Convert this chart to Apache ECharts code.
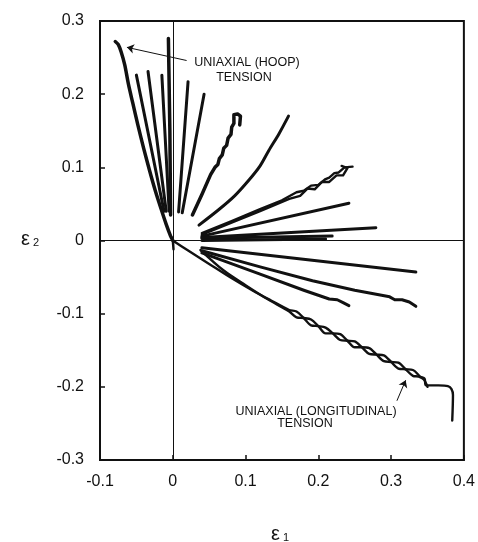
<!DOCTYPE html>
<html>
<head>
<meta charset="utf-8">
<script src="https://cdn.jsdelivr.net/npm/echarts@6/dist/echarts.min.js"></script>
<style>
  html, body { margin: 0; padding: 0; background: #fff; }
  #chart { width: 478px; height: 542px; }
</style>
</head>
<body>
<div id="chart"></div>
<script>
// Strain paths in the (ε1, ε2) plane, each as [ε1, ε2] pairs.
const xRange = [-0.1, 0.4];
const yRange = [-0.3, 0.3];
const tickStep = 0.1;

// Uniaxial hoop tension envelope
const hoopPath = [
  [-0.079, 0.272], [-0.075, 0.268], [-0.071, 0.258], [-0.066, 0.240], [-0.061, 0.214],
  [-0.055, 0.188], [-0.048, 0.158], [-0.040, 0.126], [-0.032, 0.096], [-0.024, 0.068],
  [-0.016, 0.043], [-0.009, 0.022], [-0.003, 0.006], [0.0, 0.0]
];
// Upper fan
const pathA = [[-0.050, 0.226], [-0.012, 0.040]];
const pathB = [[-0.034, 0.231], [-0.009, 0.040]];
const pathC = [[-0.015, 0.226], [-0.005, 0.040]];
const pathD = [[-0.006, 0.276], [-0.004, 0.150], [-0.003, 0.035]];
const pathE = [[0.008, 0.039], [0.021, 0.217]];
const pathF = [[0.013, 0.038], [0.043, 0.200]];
const pathG = [
  [0.027, 0.035], [0.040, 0.063], [0.052, 0.090], [0.058, 0.100], [0.062, 0.104],
  [0.064, 0.112], [0.068, 0.117], [0.070, 0.126], [0.074, 0.130], [0.076, 0.140],
  [0.080, 0.145], [0.081, 0.155], [0.084, 0.160], [0.084, 0.172], [0.089, 0.173],
  [0.093, 0.170], [0.092, 0.158]
];
const pathH = [
  [0.036, 0.021], [0.063, 0.042], [0.085, 0.061], [0.105, 0.083], [0.120, 0.102],
  [0.132, 0.123], [0.146, 0.146], [0.159, 0.170]
];
// Right fan
const pathI1 = [
  [0.040, 0.010], [0.080, 0.026], [0.120, 0.043], [0.150, 0.055], [0.170, 0.066],
  [0.180, 0.068], [0.190, 0.075], [0.200, 0.076], [0.210, 0.084], [0.215, 0.086],
  [0.222, 0.092], [0.228, 0.093], [0.236, 0.100], [0.247, 0.101]
];
const pathI2 = [
  [0.040, 0.008], [0.120, 0.040], [0.160, 0.057], [0.175, 0.061], [0.185, 0.071],
  [0.195, 0.070], [0.205, 0.080], [0.215, 0.080], [0.225, 0.089], [0.234, 0.089],
  [0.240, 0.099], [0.232, 0.102]
];
const pathJ = [[0.040, 0.006], [0.242, 0.051]];
const pathK = [[0.040, 0.004], [0.279, 0.0175]];
const pathL1 = [[0.040, 0.003], [0.219, 0.006]];
const pathL2 = [[0.040, 0.000], [0.210, 0.002]];
// Lower fan
const pathM = [[0.040, -0.010], [0.334, -0.043]];
const pathN = [
  [0.040, -0.014], [0.120, -0.036], [0.192, -0.055], [0.250, -0.068], [0.298, -0.077],
  [0.305, -0.081], [0.315, -0.081], [0.325, -0.084], [0.334, -0.090]
];
const pathO = [
  [0.040, -0.017], [0.120, -0.046], [0.180, -0.068], [0.215, -0.080], [0.226, -0.081],
  [0.234, -0.085], [0.242, -0.089]
];
// Uniaxial longitudinal tension (two intertwined records)
const longPath1 = [
  [0.000, 0.004], [0.001, -0.012], [0.000, 0.000], [0.020, -0.013], [0.050, -0.032],
  [0.080, -0.051], [0.109, -0.068], [0.135, -0.082], [0.160, -0.095], [0.170, -0.097],
  [0.180, -0.106], [0.190, -0.116], [0.200, -0.117], [0.210, -0.119], [0.220, -0.127],
  [0.230, -0.136], [0.240, -0.137], [0.250, -0.138], [0.260, -0.146], [0.270, -0.155],
  [0.280, -0.156], [0.290, -0.157], [0.300, -0.166], [0.310, -0.175], [0.320, -0.176],
  [0.330, -0.177], [0.340, -0.186], [0.346, -0.189], [0.348, -0.198], [0.365, -0.198],
  [0.378, -0.199], [0.383, -0.203], [0.385, -0.211], [0.384, -0.246]
];
const longPath2 = [
  [0.038, -0.013], [0.070, -0.041], [0.100, -0.061], [0.130, -0.080], [0.160, -0.097],
  [0.170, -0.105], [0.180, -0.106], [0.190, -0.108], [0.200, -0.117], [0.210, -0.127],
  [0.220, -0.127], [0.230, -0.128], [0.240, -0.137], [0.250, -0.146], [0.260, -0.146],
  [0.270, -0.147], [0.280, -0.156], [0.290, -0.165], [0.300, -0.166], [0.310, -0.167],
  [0.320, -0.176], [0.330, -0.185], [0.338, -0.186], [0.345, -0.190], [0.350, -0.200]
];

const INK = '#111';
const FONT = '"Liberation Sans", Arial, Helvetica, sans-serif';

const paths = [
  { data: hoopPath, width: 3.5, smooth: 0.3 },
  { data: pathA, width: 3 }, { data: pathB, width: 3 }, { data: pathC, width: 3 },
  { data: pathD, width: 3.5 }, { data: pathE, width: 3 }, { data: pathF, width: 3 },
  { data: pathG, width: 3.5 }, { data: pathH, width: 3, smooth: 0.3 },
  { data: pathI1, width: 2.4 }, { data: pathI2, width: 2.4 },
  { data: pathJ, width: 3 }, { data: pathK, width: 3 },
  { data: pathL1, width: 3 }, { data: pathL2, width: 3 },
  { data: pathM, width: 3 }, { data: pathN, width: 3 }, { data: pathO, width: 3 },
  { data: longPath1, width: 2.4, smooth: 0.3 }, { data: longPath2, width: 2.4, smooth: 0.3 }
];

const series = paths.map((p) => ({
  type: 'line',
  data: p.data,
  showSymbol: false,
  smooth: p.smooth || false,
  lineStyle: { color: INK, width: p.width, cap: 'round', join: 'round' },
  z: 3
}));

// zero reference lines
series[0].markLine = {
  silent: true, symbol: 'none', label: { show: false },
  lineStyle: { color: INK, width: 1, type: 'solid' },
  data: [{ xAxis: 0 }, { yAxis: 0 }]
};
// annotation arrows
series[1].markLine = {
  silent: true, symbol: ['none', 'arrow'], symbolSize: 7, label: { show: false },
  lineStyle: { color: INK, width: 1, type: 'solid' },
  data: [
    [{ coord: [0.019, 0.246] }, { coord: [-0.063, 0.264] }],
    [{ coord: [0.308, -0.219] }, { coord: [0.320, -0.191] }]
  ]
};

const chart = echarts.init(document.getElementById('chart'), null, { renderer: 'canvas' });
chart.setOption({
  animation: false,
  backgroundColor: '#fff',
  grid: {
    left: 100, top: 21, right: 14, bottom: 82,
    show: true, borderColor: INK, borderWidth: 2, backgroundColor: 'transparent'
  },
  xAxis: {
    type: 'value', min: xRange[0], max: xRange[1], interval: tickStep,
    axisLine: { show: true, onZero: false, lineStyle: { color: INK, width: 2 } },
    axisTick: { show: true, inside: true, length: 5, lineStyle: { color: INK, width: 1.5 } },
    axisLabel: { color: INK, fontSize: 16, fontFamily: FONT, margin: 14 },
    splitLine: { show: false }
  },
  yAxis: {
    type: 'value', min: yRange[0], max: yRange[1], interval: tickStep,
    axisLine: { show: true, onZero: false, lineStyle: { color: INK, width: 2 } },
    axisTick: { show: true, inside: true, length: 5, lineStyle: { color: INK, width: 1.5 } },
    axisLabel: { color: INK, fontSize: 16, fontFamily: FONT, margin: 16 },
    splitLine: { show: false }
  },
  series: series,
  graphic: [
    { type: 'text', x: 247, y: 63, style: { text: 'UNIAXIAL (HOOP)', fill: INK, font: '12.5px ' + FONT, align: 'center', verticalAlign: 'middle' } },
    { type: 'text', x: 244, y: 78, style: { text: 'TENSION', fill: INK, font: '12.5px ' + FONT, align: 'center', verticalAlign: 'middle' } },
    { type: 'text', x: 316, y: 412, style: { text: 'UNIAXIAL (LONGITUDINAL)', fill: INK, font: '12.5px ' + FONT, align: 'center', verticalAlign: 'middle' } },
    { type: 'text', x: 305, y: 424, style: { text: 'TENSION', fill: INK, font: '12.5px ' + FONT, align: 'center', verticalAlign: 'middle' } },
    {
      type: 'text', x: 280, y: 534,
      style: {
        text: '{e|ε}{s| 1}', align: 'center', verticalAlign: 'middle',
        rich: {
          e: { fontSize: 20, fontFamily: FONT, fill: INK },
          s: { fontSize: 11, fontFamily: FONT, fill: INK, padding: [8, 0, 0, 0] }
        }
      }
    },
    {
      type: 'text', x: 30, y: 239,
      style: {
        text: '{e|ε}{s| 2}', align: 'center', verticalAlign: 'middle',
        rich: {
          e: { fontSize: 20, fontFamily: FONT, fill: INK },
          s: { fontSize: 11, fontFamily: FONT, fill: INK, padding: [8, 0, 0, 0] }
        }
      }
    }
  ]
});
</script>
</body>
</html>
